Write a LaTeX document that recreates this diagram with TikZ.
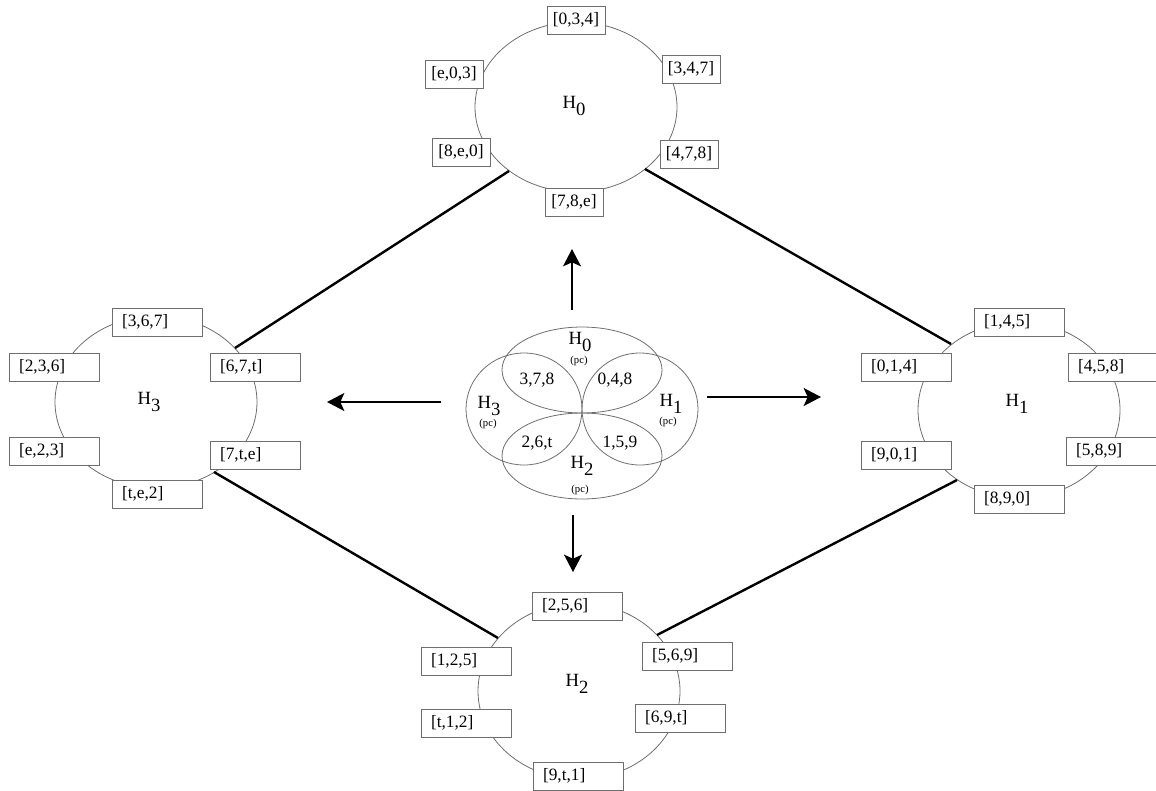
\documentclass[tikz,border=0pt]{standalone}
\usepackage{fontspec}
\setmainfont{Liberation Serif}
\usetikzlibrary{arrows.meta}
\definecolor{ringgray}{RGB}{110,110,110}
\newcommand{\hsub}[1]{H\raisebox{-0.4em}{#1}}

\begin{document}
\begin{tikzpicture}[x=0.75pt,y=0.75pt,yscale=-1,xscale=1,
  font=\fontsize{13}{15}\selectfont,
  ring/.style={draw=ringgray,line width=0.6pt},
  cell/.style={draw=ringgray,fill=white,line width=0.6pt,minimum width=43.5pt,minimum height=21pt,inner sep=0pt},
  wcell/.style={cell,text width=52.5pt,inner xsep=7.5pt,align=left},
  bond/.style={line width=1.8pt},
  push/.style={line width=1.5pt,-{Stealth[length=13pt,width=13.5pt,inset=3pt]}},
  big/.style={font=\fontsize{14}{15}\selectfont},
  tag/.style={font=\fontsize{8}{9}\selectfont,inner sep=0pt}]
\useasboundingbox (0,0) rectangle (1156,790);

%Shape: Ellipse [H0]
\coordinate (h0) at (576,107);
\draw[ring] (h0) ellipse (101 and 85);
%Shape: Ellipse [H1]
\coordinate (h1) at (1019,410);
\draw[ring] (h1) ellipse (101 and 88);
%Shape: Ellipse [H2]
\coordinate (h2) at (579,691);
\draw[ring] (h2) ellipse (101 and 88);
%Shape: Ellipse [H3]
\coordinate (h3) at (156,402);
\draw[ring] (h3) ellipse (101 and 86);

% Text Node
\node[big] (h0lab) at (574,106) {\hsub{0}};
\node[big] (h1lab) at (1017,404) {\hsub{1}};
\node[big] (h2lab) at (577,684) {\hsub{2}};
\node[big] (h3lab) at (149,402) {\hsub{3}};

% H0 boxes
\node[cell] (a034) at (576,20) {[0,3,4]};
\node[cell] (ae03) at (454,74) {[e,0,3]};
\node[cell] (a347) at (691,69) {[3,4,7]};
\node[cell] (a8e0) at (461,152) {[8,e,0]};
\node[cell] (a478) at (689,154) {[4,7,8]};
\node[cell] (a78e) at (574,202) {[7,8,e]};

% H3 boxes
\node[wcell] (d367) at (157,322) {[3,6,7]};
\node[wcell] (d236) at (54,367) {[2,3,6]};
\node[wcell] (d67t) at (255,367) {[6,7,t]};
\node[wcell] (de23) at (54,451) {[e,2,3]};
\node[wcell] (d7te) at (255,455) {[7,t,e]};
\node[wcell] (dte2) at (157,494) {[t,e,2]};

% H1 boxes
\node[wcell] (b145) at (1019,322) {[1,4,5]};
\node[wcell] (b014) at (906,367) {[0,1,4]};
\node[wcell] (b458) at (1113,367) {[4,5,8]};
\node[wcell] (b901) at (906,455) {[9,0,1]};
\node[wcell] (b589) at (1111,451) {[5,8,9]};
\node[wcell] (b890) at (1019,499) {[8,9,0]};

% H2 boxes
\node[wcell] (c256) at (577,606) {[2,5,6]};
\node[wcell] (c125) at (466,661) {[1,2,5]};
\node[wcell] (c569) at (687,656) {[5,6,9]};
\node[wcell] (ct12) at (466,723) {[t,1,2]};
\node[wcell] (c69t) at (680,718) {[6,9,t]};
\node[wcell] (c9t1) at (578,776) {[9,t,1]};

%Straight Lines
\coordinate (h0sw) at (509,171);
\coordinate (h0se) at (645,169);
\coordinate (h1nw) at (951,344);
\coordinate (h1sw) at (957,480);
\coordinate (h2nw) at (498,638);
\coordinate (h2ne) at (657,635);
\coordinate (h3ne) at (235,348);
\coordinate (h3se) at (214,472);
\draw[bond] (h0sw) -- (h3ne);
\draw[bond] (h0se) -- (h1nw);
\draw[bond] (h3se) -- (h2nw);
\draw[bond] (h1sw) -- (h2ne);

%Shape: Ellipse [pc]
\draw[ring] (582,370) ellipse (80 and 43);
\draw[ring] (582,456) ellipse (80 and 43);
\draw[ring] (524,409) ellipse (58 and 56);
\draw[ring] (640,409) ellipse (58 and 56);

% Text Node
\node[big] (p0) at (580,342) {\hsub{0}};
\node[tag] (p0t) at (579,361) {(pc)};
\node[big] (p1) at (671,404) {\hsub{1}};
\node[tag] (p1t) at (668,422) {(pc)};
\node[big] (p2) at (582,466) {\hsub{2}};
\node[tag] (p2t) at (580,490) {(pc)};
\node[big] (p3) at (489,406) {\hsub{3}};
\node[tag] (p3t) at (488,424) {(pc)};
\node (q378) at (537,380) {3,7,8};
\node (q048) at (615,380) {0,4,8};
\node (q26t) at (537,443) {2,6,t};
\node (q159) at (620,443) {1,5,9};

%Arrows
\coordinate (upa) at (572,310);
\coordinate (upb) at (572,249);
\coordinate (dna) at (573,515);
\coordinate (dnb) at (573,572);
\coordinate (lfa) at (441,402);
\coordinate (lfb) at (327,402);
\coordinate (rta) at (707,397);
\coordinate (rtb) at (821,397);
\draw[push] (upa) -- (upb);
\draw[push] (dna) -- (dnb);
\draw[push] (lfa) -- (lfb);
\draw[push] (rta) -- (rtb);

\end{tikzpicture}
\end{document}
